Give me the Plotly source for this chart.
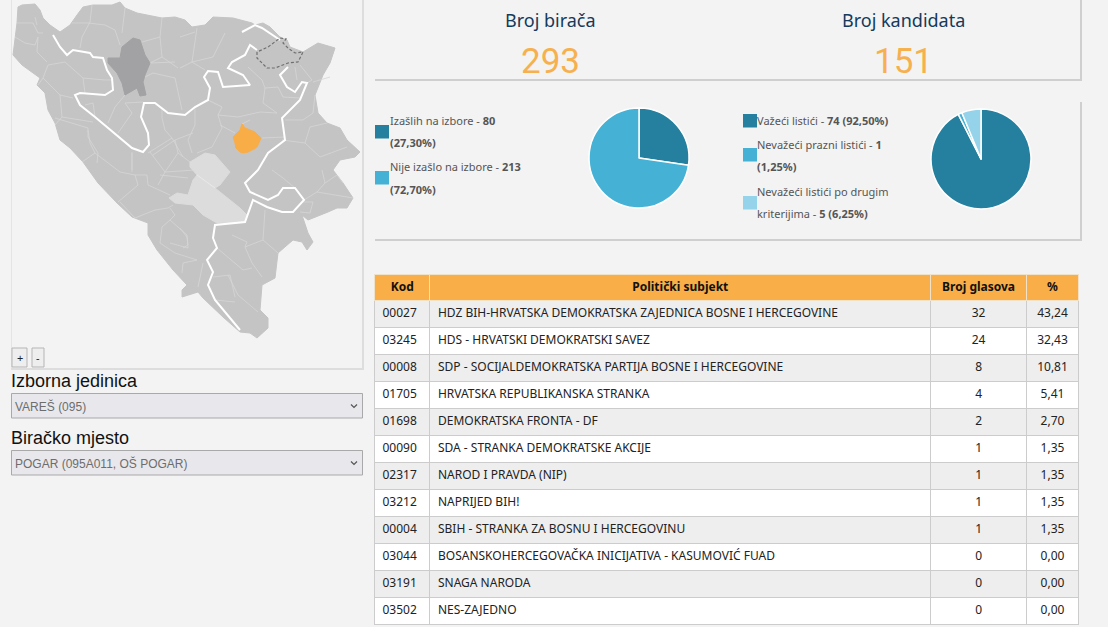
import plotly.graph_objects as go

W, H = 1108, 627

# table
kod = ["00027", "03245", "00008", "01705", "01698", "00090", "02317", "03212", "00004", "03044", "03191", "03502"]
subjekt = [
    "HDZ BIH-HRVATSKA DEMOKRATSKA ZAJEDNICA BOSNE I HERCEGOVINE",
    "HDS - HRVATSKI DEMOKRATSKI SAVEZ",
    "SDP - SOCIJALDEMOKRATSKA PARTIJA BOSNE I HERCEGOVINE",
    "HRVATSKA REPUBLIKANSKA STRANKA",
    "DEMOKRATSKA FRONTA - DF",
    "SDA - STRANKA DEMOKRATSKE AKCIJE",
    "NAROD I PRAVDA (NIP)",
    "NAPRIJED BIH!",
    "SBIH - STRANKA ZA BOSNU I HERCEGOVINU",
    "BOSANSKOHERCEGOVAČKA INICIJATIVA - KASUMOVIĆ FUAD",
    "SNAGA NARODA",
    "NES-ZAJEDNO",
]
glasovi = [32, 24, 8, 4, 2, 1, 1, 1, 1, 0, 0, 0]
posto = ["43,24", "32,43", "10,81", "5,41", "2,70", "1,35", "1,35", "1,35", "1,35", "0,00", "0,00", "0,00"]
zaglavlje = ["Kod", "Politički subjekt", "Broj glasova", "%"]

# pies
izlaznost = [80, 213]
listici = [74, 1, 5]
pie_boje = ["#24809e", "#45b2d5", "#94d3ea"]

# map
granica = [(18,7),(22,5),(35,4),(40,10),(43,18),(50,25),(60,32),(70,25),(77,15),(83,7),(93,5),(112,5),(120,2),(125,8),
    (137,13),(148,15),(162,18),(175,17),(185,20),(192,27),(205,25),(213,17),(233,18),(252,23),(255,25),(263,23),(270,27),
    (280,37),(287,40),(290,47),(303,52),(318,43),(335,48),(330,63),(323,75),(315,95),(318,113),(327,123),(340,128),
    (347,140),(360,152),(355,157),(340,160),(333,170),(343,183),(353,198),(347,208),(337,208),(328,212),(308,220),
    (302,215),(308,233),(313,242),(307,250),(302,242),(293,240),(278,253),(275,278),(262,285),(260,310),(268,318),
    (268,328),(257,338),(250,333),(240,332),(223,317),(203,298),(198,292),(182,297),(182,290),(187,285),(173,270),
    (157,250),(148,235),(148,223),(132,217),(117,203),(98,183),(83,162),(70,148),(60,140),(55,123),(48,110),(45,93),
    (37,85),(40,78),(22,65),(13,55),(15,38),(17,23),(18,7)]
tamna = [(133,38),(140,40),(145,55),(150,63),(145,75),(143,82),(146,95),(140,96),(137,88),(125,95),(122,83),(117,73),
    (108,63),(108,58),(120,58),(122,47),(133,38)]
svijetla = [(190,162),(205,153),(215,155),(230,172),(220,185),(215,188),(240,208),(247,215),(245,222),(217,223),(203,215),
    (193,205),(175,203),(169,198),(177,193),(188,195),(193,180),(197,175),(190,167),(190,162)]
narandzasta = [(242,124),(245,128),(255,132),(261,138),(257,147),(254,149),(248,152),(243,153),(240,152),(236,148),(235,143),
    (233,137),(240,130),(242,124)]
brcko = [(257,52),(257,58),(267,68),(275,68),(288,63),(298,62),(303,52),(295,53),(288,48),(283,43),(286,39),(280,38),
    (268,47),(257,52)]
linija_1 = [(53,35),(60,47),(67,55),(73,50),(90,53),(93,57),(103,58),(107,70),(112,78),(113,90),(105,95),(80,93),(75,95),
    (80,105),(95,117),(113,132),(132,148),(143,152),(149,145),(148,133),(141,117),(144,103),(155,103),(168,113),(185,115),
    (195,107),(208,100),(210,88),(204,77),(208,71),(218,72),(223,87),(250,85),(243,75),(228,68),(232,62),(245,55),(250,45),(257,50)]
linija_2 = [(288,67),(280,75),(287,87),(295,92),(302,82),(307,83),(300,100),(282,118),(285,140),(268,153),(258,170),(245,183),
    (250,192),(268,200),(278,195),(283,188),(295,188),(304,200),(293,212),(282,212),(267,207),(253,200),(245,222),(215,225),
    (213,238),(217,248),(207,260),(213,272),(208,285),(215,300),(240,330)]
linija_3 = [(242,32),(255,25),(262,28),(280,40)]
svijetle_crte = [[(197,175),(215,188)]]
opstine = [
    [(17,23),(33,23),(38,33),(43,33)], [(35,17),(37,25)], [(15,37),(25,43),(35,45),(38,37)], [(38,37),(37,52),(47,62)],
    [(65,62),(48,65),(43,78),(38,85)], [(65,62),(83,78),(105,80),(112,80)], [(83,78),(85,93)], [(43,78),(60,95),(73,98)],
    [(60,95),(62,117),(55,125)], [(55,118),(88,128),(88,137),(98,153),(97,163)], [(62,117),(93,122)],
    [(72,23),(88,23),(105,25),(115,30),(120,45)], [(92,5),(90,22),(82,37),(80,48)], [(125,8),(123,23),(122,33)],
    [(162,18),(160,37),(142,42)], [(160,37),(162,57),(150,63)], [(162,57),(178,68)], [(145,77),(153,73),(175,78),(182,110)],
    [(150,63),(175,62)], [(125,95),(115,107),(108,123)], [(143,102),(125,103),(132,113),(118,133)], [(85,105),(93,103),(95,117)],
    [(162,107),(162,118),(165,130),(172,138),(148,153)], [(172,138),(183,157)], [(132,152),(132,170)],
    [(197,28),(195,43),(192,62),(205,70)], [(225,33),(217,50),(213,57),(192,62)], [(180,37),(195,32)], [(180,68),(192,62)],
    [(248,67),(262,80),(265,88),(263,103),(277,113)], [(265,88),(278,87),(283,97),(300,98)],
    [(208,100),(222,107),(218,115),(238,117),(260,112),(277,113)], [(195,107),(195,125),(188,140),(192,153)],
    [(218,115),(222,128),(212,147),(197,153)], [(235,133),(220,125)], [(250,120),(242,124)], [(262,138),(285,137)],
    [(315,95),(313,113),(303,120),(285,120)], [(327,123),(310,127),(305,143),(320,157)], [(282,140),(305,143)],
    [(320,157),(347,147)], [(295,67),(297,80)], [(300,65),(312,80),(307,83)], [(313,82),(330,77)],
    [(272,170),(283,178),(295,188)], [(322,170),(325,183),(317,192),(304,200)], [(325,183),(337,175),(343,183)],
    [(317,192),(353,198)], [(303,202),(313,202),(310,213),(300,212)], [(265,210),(263,240),(245,247)], [(263,240),(278,253)],
    [(232,235),(247,242),(245,247),(252,263),(262,277)], [(217,248),(243,270),(252,268)], [(213,277),(230,275),(235,297)],
    [(228,275),(238,295),(258,312)], [(215,300),(235,302)], [(88,130),(90,143),(95,153),(82,162)],
    [(95,153),(120,172),(135,175),(138,185),(118,202)], [(135,175),(147,175),(148,185),(170,195)], [(132,153),(132,172)],
    [(150,152),(165,172),(158,185)], [(153,155),(175,140),(178,153),(165,172)], [(178,153),(190,162)], [(165,172),(195,170)],
    [(160,175),(188,178)], [(120,202),(135,218),(155,210),(168,208),(173,205)], [(175,140),(193,133)],
    [(170,208),(175,215),(170,220)], [(170,220),(187,235),(188,248),(170,243)], [(162,227),(160,243),(175,253),(197,260),(183,263)],
    [(170,220),(162,227)], [(183,263),(182,273)], [(203,263),(198,287)], [(180,228),(187,237),(188,245),(183,248)],
]

font_tekst = "Noto Sans"
font_arial = "Liberation Sans"


def px_x(a, b):
    return [a / W, b / W]


def px_y(a, b):
    return [1 - b / H, 1 - a / H]


def obris(tacke):
    return [p[0] for p in tacke], [p[1] for p in tacke]


def put(*dijelovi):
    xs, ys = [], []
    for d in dijelovi:
        x, y = obris(d)
        xs += x + [None]
        ys += y + [None]
    return xs, ys


fig = go.Figure()

x, y = obris(granica)
fig.add_trace(go.Scatter(x=x, y=y, mode="lines", fill="toself", fillcolor="#c4c4c4", line=dict(color="#c4c4c4", width=1)))
x, y = put(*opstine)
fig.add_trace(go.Scatter(x=x, y=y, mode="lines", line=dict(color="#d6d6d6", width=0.8)))
for oblik, boja in [(tamna, "#a2a2a4"), (svijetla, "#dcdcdc"), (narandzasta, "#f9ad47")]:
    x, y = obris(oblik)
    fig.add_trace(go.Scatter(x=x, y=y, mode="lines", fill="toself", fillcolor=boja, line=dict(color=boja, width=1)))
x, y = put(*svijetle_crte)
fig.add_trace(go.Scatter(x=x, y=y, mode="lines", line=dict(color="#ececec", width=0.8)))
x, y = put(linija_1, linija_2, linija_3)
fig.add_trace(go.Scatter(x=x, y=y, mode="lines", line=dict(color="white", width=2)))
x, y = obris(brcko)
fig.add_trace(go.Scatter(x=x, y=y, mode="lines", line=dict(color="#6f6f6f", width=1.2, dash="3px,2px")))

fig.add_trace(go.Pie(values=izlaznost, sort=False, direction="clockwise", textinfo="none", hoverinfo="skip",
                     marker=dict(colors=pie_boje[:2], line=dict(color="white", width=1.5)),
                     domain=dict(x=px_x(589, 689), y=px_y(108, 208))))
fig.add_trace(go.Pie(values=listici, sort=False, direction="clockwise", textinfo="none", hoverinfo="skip",
                     marker=dict(colors=pie_boje, line=dict(color="white", width=1.5)),
                     domain=dict(x=px_x(931, 1031), y=px_y(109, 209))))

red_boje = ["#eeeeee" if i % 2 == 0 else "#ffffff" for i in range(len(kod))]
fig.add_trace(go.Table(
    columnwidth=[55.5, 501, 96, 52],
    domain=dict(x=px_x(374.5, 1079), y=[0, 1 - 274 / H]),
    header=dict(values=zaglavlje, height=26, fill_color="#f9ae47",
                line_color="#f0e2c8", align="center", font=dict(family=font_tekst, size=12, color="#111111", weight=700)),
    cells=dict(values=[kod, subjekt, glasovi, posto], height=27, fill_color=[red_boje] * 4,
               line_color="#cccccc", align=["left", "left", "center", "center"],
               font=dict(family=font_tekst, size=12, color="#222222")),
))

# panels
shapes = []


def rect(x0, y0, x1, y1, fill, line=None, lw=1):
    shapes.append(dict(type="rect", xref="x", yref="y", x0=x0, y0=y0, x1=x1, y1=y1, fillcolor=fill, layer="below",
                       line=dict(color=line or fill, width=lw if line else 0)))


rect(1080, 0, 1082, 81, "#cfcfcf")
rect(375, 79, 1082, 81, "#cfcfcf")
rect(1080, 102, 1082, 241, "#cfcfcf")
rect(375, 239, 1082, 241, "#cfcfcf")
rect(11, 0, 12, 370, "#e4e4e4")
rect(362, 0, 364, 370, "#dddddd")
rect(11, 368, 364, 370, "#dddddd")
rect(12, 348, 27, 367, "#eeeeee", "#b5b5b5")
rect(32, 348, 44, 367, "#eeeeee", "#b5b5b5")
rect(11.5, 393.5, 362.5, 418, "#e8e8ec", "#a9a9a9")
rect(11.5, 450.5, 362.5, 475, "#e8e8ec", "#a9a9a9")
for y0 in (125, 171):
    rect(375, y0, 389, y0 + 13.5, pie_boje[0] if y0 == 125 else pie_boje[1])
for y0, b in [(114, pie_boje[0]), (148, pie_boje[1]), (196, pie_boje[2])]:
    rect(743, y0, 757, y0 + 13.5, b)
for yc in (406, 463):
    shapes.append(dict(type="path", xref="x", yref="y", path="M351 %g L354 %g L357 %g" % (yc - 1.5, yc + 1.5, yc - 1.5),
                       line=dict(color="#555555", width=1.2)))


def tekst(x, y, s, size=11, color="#555555", family=font_tekst, anchor="left"):
    fig.add_annotation(x=x, y=y, xref="x", yref="y", text=s, showarrow=False, xanchor=anchor, yanchor="middle",
                       font=dict(family=family, size=size, color=color))


tekst(550.5, 20, "Broj birača", 18, "#143a5c", anchor="center")
tekst(903, 20, "Broj kandidata", 18, "#143a5c", anchor="center")
tekst(550.5, 61, "293", 35, "#f7b04e", "Roboto", "center")
tekst(903, 61, "151", 35, "#f7b04e", "Roboto", "center")

tekst(388, 120, "Izašlih na izbore - <b>80</b>")
tekst(388, 142, "<b>(27,30%)</b>")
tekst(388, 166, "Nije izašlo na izbore - <b>213</b>")
tekst(388, 189, "<b>(72,70%)</b>")
tekst(755, 120, "Važeći listići - <b>74 (92,50%)</b>")
tekst(755, 144, "Nevažeći prazni listići - <b>1</b>")
tekst(755, 166, "<b>(1,25%)</b>")
tekst(755, 191, "Nevažeći listići po drugim")
tekst(755, 213, "kriterijima - <b>5 (6,25%)</b>")

tekst(19.5, 357, "+", 11, "#222222", anchor="center")
tekst(38, 357, "-", 11, "#222222", anchor="center")
tekst(9, 381, "Izborna jedinica", 18, "#111111", font_arial)
tekst(9, 438, "Biračko mjesto", 18, "#111111", font_arial)
tekst(13, 406, "VAREŠ (095)", 12, "#6d6d6d", font_arial)
tekst(13, 463, "POGAR (095A011, OŠ POGAR)", 12, "#6d6d6d", font_arial)

fig.update_layout(
    width=W, height=H, margin=dict(l=0, r=0, t=0, b=0), showlegend=False,
    paper_bgcolor="#f3f3f3", plot_bgcolor="#f3f3f3", shapes=shapes,
    xaxis=dict(range=[0, W], visible=False, domain=[0, 1], fixedrange=True),
    yaxis=dict(range=[H, 0], visible=False, domain=[0, 1], fixedrange=True),
)
fig.write_html("out.html", config=dict(displayModeBar=False),
               post_script="document.body.style.margin='0';document.body.style.background='#f3f3f3';")
